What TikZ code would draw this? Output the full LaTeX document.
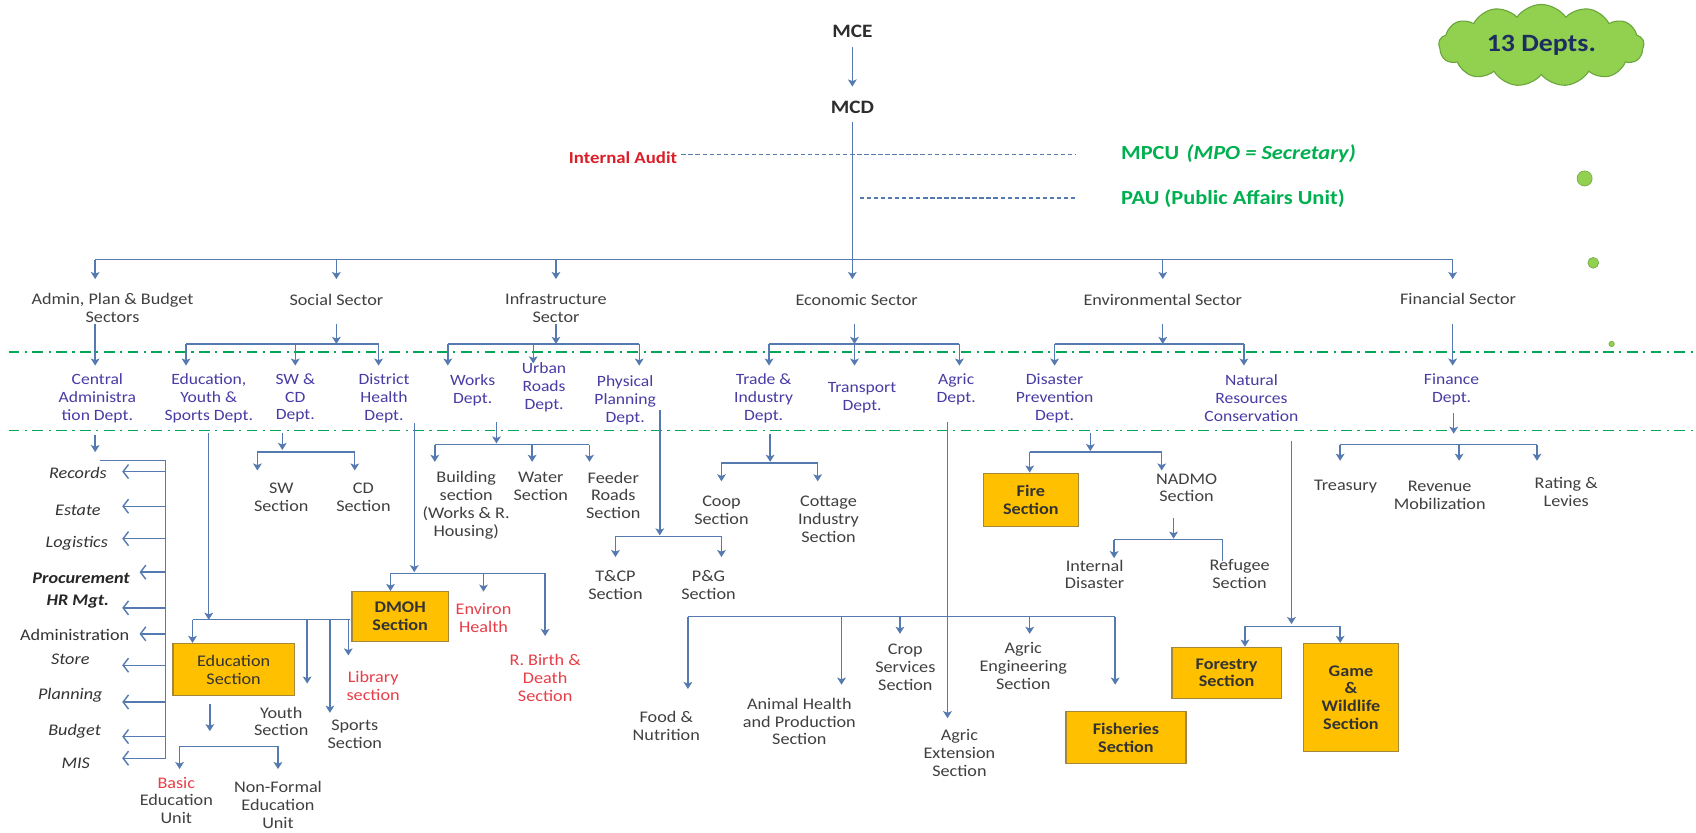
\documentclass[tikz,border=0pt]{standalone}
\usepackage{fontspec}
\setmainfont{Carlito}[FakeStretch=1.12]
\usetikzlibrary{arrows.meta,shapes.symbols}
\definecolor{lc}{RGB}{84,122,176}
\definecolor{dc}{RGB}{72,60,165}
\definecolor{sc}{RGB}{64,64,64}
\definecolor{rc}{RGB}{232,62,72}
\definecolor{auditc}{RGB}{220,30,40}
\definecolor{gtext}{RGB}{0,176,80}
\definecolor{gline}{RGB}{0,165,85}
\definecolor{oboxc}{RGB}{255,192,0}
\definecolor{obd}{RGB}{165,135,60}
\definecolor{cloudg}{RGB}{146,208,80}
\definecolor{cloudd}{RGB}{105,165,60}
\definecolor{navyc}{RGB}{28,45,95}
\newcommand\fsz{\fontsize{14.5}{16.5}\selectfont}
\newcommand\fsy{\fontsize{15}{16.5}\selectfont}
\tikzset{
  ln/.style={draw=lc, line width=1.3pt},
  arr/.style={ln, -{Stealth[length=6.5pt,width=8pt,inset=1.5pt]}},
  barb/.style={ln, -{Straight Barb[length=5pt,width=13pt]}},
  dsh/.style={draw=lc, line width=1.3pt, dash pattern=on 4pt off 2.5pt},
  ddot/.style={draw=gline, line width=1.8pt, dash pattern=on 10pt off 5pt on 2pt off 5pt},
  sector/.style={text=sc, align=center, font=\fsy, inner sep=0pt},
  dept/.style={text=dc, align=center, font=\fsz, inner sep=0pt},
  sect/.style={text=sc, align=center, font=\fsy, inner sep=0pt},
  rsect/.style={text=rc, align=center, font=\fsy, inner sep=0pt},
  item/.style={text=sc!80!black, font=\fsy\itshape, inner sep=0pt},
  bitem/.style={text=black!85, font=\fsy\bfseries\itshape, inner sep=0pt},
  obox/.style={fill=oboxc, draw=obd, line width=1.2pt, text=sc!80!black, align=center, font=\fsy, inner sep=0pt},
  dot/.style={fill=cloudg, draw=cloudd, line width=0.5pt}
}
\begin{document}
\begin{tikzpicture}[x=1pt,y=-1pt]
\useasboundingbox (0,0) rectangle (1568,770);
\fill[white] (0,0) rectangle (1568,770);

% green dash-dot lines
\coordinate (g1a) at (8,325); \coordinate (g1b) at (1568,325);
\coordinate (g2a) at (8,398); \coordinate (g2b) at (1568,398);
\draw[ddot] (g1a) -- (g1b);
\draw[ddot] (g2a) -- (g2b);

% top
\node[text=sc!70!black, font=\bfseries\fontsize{17.5}{19}\selectfont] (MCE) at (788,29) {MCE};
\node[text=sc!70!black, font=\bfseries\fontsize{17.5}{19}\selectfont] (MCD) at (788,99) {MCD};
\coordinate (m1) at (788,43); \coordinate (m2) at (788,80);
\draw[arr] (m1) -- (m2);
\coordinate (m3) at (788,113); \coordinate (m4) at (788,258);

\node[text=auditc, font=\bfseries\fontsize{15.5}{18}\selectfont] (IA) at (576,146) {Internal Audit};
\node[text=gtext, font=\bfseries\fontsize{18.5}{20}\selectfont, anchor=west] (MPCU) at (1033,142) {MPCU\hspace{7pt}\textit{(MPO = Secretary)}};
\node[text=gtext, font=\bfseries\fontsize{18.5}{20}\selectfont, anchor=west] (PAU) at (1033,184) {PAU (Public Affairs Unit)};
\coordinate (ia1) at (630,143); \coordinate (ia2) at (995,143);
\coordinate (pa1) at (795,183); \coordinate (pa2) at (995,183);
\draw[dsh] (ia1) -- (ia2);
\draw[dsh] (pa1) -- (pa2);

% cloud
\node[cloud, cloud puffs=13, cloud puff arc=110, aspect=2.6, fill=cloudg, draw=cloudd, line width=1pt,
      minimum width=190pt, minimum height=74pt, text=navyc, font=\bfseries\fontsize{23}{26}\selectfont] (cloud) at (1425,42) {13 Depts.};
\fill[dot] (1465,165) circle (7);
\fill[dot] (1473,243) circle (5);
\fill[dot] (1490,318) circle (2.5);

% sector level
\node[sector] (adm) at (104,285) {Admin, Plan \& Budget\\Sectors};
\node[sector] (soc) at (311,277) {Social Sector};
\node[sector] (inf) at (514,285) {Infrastructure\\Sector};
\node[sector] (eco) at (792,277) {Economic Sector};
\node[sector] (env) at (1075,277) {Environmental Sector};
\node[sector] (fin) at (1348,276) {Financial Sector};

\coordinate (tb1) at (88,240); \coordinate (tb2) at (311,240); \coordinate (tb3) at (514,240);
\coordinate (tb5) at (1075,240); \coordinate (tb6) at (1343,240);
\draw[ln] (tb1) -- (tb6);
\draw[arr] (m3) -- (m4);
\foreach \x/\n in {88/a,311/b,514/c,1075/e,1343/f}{
  \coordinate (tt\n) at (\x,258);
}
\draw[arr] (tb1) -- (tta);
\draw[arr] (tb2) -- (ttb);
\draw[arr] (tb3) -- (ttc);
\draw[arr] (tb5) -- (tte);
\draw[arr] (tb6) -- (ttf);

% departments
\node[dept] (cad) at (90,368) {Central\\Administra\\tion Dept.};
\node[dept] (eys) at (193,368) {Education,\\Youth \&\\Sports Dept.};
\node[dept] (swd) at (273,368) {SW \&\\CD\\Dept.};
\node[dept] (dhd) at (355,368) {District\\Health\\Dept.};
\node[dept] (wkd) at (437,361) {Works\\Dept.};
\node[dept] (urd) at (503,358) {Urban\\Roads\\Dept.};
\node[dept] (ppd) at (578,370) {Physical\\Planning\\Dept.};
\node[dept] (tid) at (706,368) {Trade \&\\Industry\\Dept.};
\node[dept] (trd) at (797,368) {Transport\\Dept.};
\node[dept] (agd) at (884,360) {Agric\\Dept.};
\node[dept] (dpd) at (975,368) {Disaster\\Prevention\\Dept.};
\node[dept] (nrc) at (1157,368) {Natural\\Resources\\Conservation};
\node[dept] (fid) at (1342,360) {Finance\\Dept.};

% sector -> dept connectors
\coordinate (a1) at (88,300); \coordinate (a2) at (88,338);
\draw[arr] (a1) -- (a2);
% social
\coordinate (s0) at (311,300); \coordinate (s1) at (311,318);
\coordinate (sb1) at (172,318); \coordinate (sb2) at (273,318); \coordinate (sb3) at (350,318);
\coordinate (se1) at (172,338); \coordinate (se2) at (273,338); \coordinate (se3) at (350,338);
\draw[arr] (s0) -- (s1);
\draw[ln] (sb1) -- (sb3);
\draw[arr] (sb1) -- (se1); \draw[arr] (sb2) -- (se2); \draw[arr] (sb3) -- (se3);
% infrastructure
\coordinate (i0) at (514,300); \coordinate (i1) at (514,318);
\coordinate (ib1) at (414,318); \coordinate (ib2) at (493,318); \coordinate (ib3) at (591,318);
\coordinate (ie1) at (414,338); \coordinate (ie2) at (493,336); \coordinate (ie3) at (591,338);
\draw[arr] (i0) -- (i1);
\draw[ln] (ib1) -- (ib3);
\draw[arr] (ib1) -- (ie1); \draw[arr] (ib2) -- (ie2); \draw[arr] (ib3) -- (ie3);
% economic
\coordinate (e0) at (790,300); \coordinate (e1) at (790,318);
\coordinate (eb1) at (711,318); \coordinate (eb2) at (790,318); \coordinate (eb3) at (887,318);
\coordinate (ee1) at (711,338); \coordinate (ee2) at (790,338); \coordinate (ee3) at (887,338);
\draw[arr] (e0) -- (e1);
\draw[ln] (eb1) -- (eb3);
\draw[arr] (eb1) -- (ee1); \draw[arr] (eb2) -- (ee2); \draw[arr] (eb3) -- (ee3);
% environmental
\coordinate (v0) at (1075,300); \coordinate (v1) at (1075,318);
\coordinate (vb1) at (975,318); \coordinate (vb2) at (1150,318);
\coordinate (ve1) at (975,338); \coordinate (ve2) at (1150,338);
\draw[arr] (v0) -- (v1);
\draw[ln] (vb1) -- (vb2);
\draw[arr] (vb1) -- (ve1); \draw[arr] (vb2) -- (ve2);
% financial
\coordinate (f0) at (1343,300); \coordinate (f1) at (1343,338);
\draw[arr] (f0) -- (f1);

% ---- Central administration items
\coordinate (c1) at (88,402); \coordinate (c2) at (88,418);
\draw[arr] (c1) -- (c2);
\coordinate (cb0) at (92,426); \coordinate (cb1) at (153,426); \coordinate (cb2) at (153,702);
\draw[ln] (cb0) -- (cb1) -- (cb2);
\node[item] (rec) at (72,437) {Records};
\node[item] (est) at (72,472) {Estate};
\node[item] (lgs) at (71,502) {Logistics};
\node[bitem] (pro) at (75,535) {Procurement};
\node[bitem] (hrm) at (72,556) {HR Mgt.};
\node[text=sc!80!black, font=\fsy, inner sep=0pt] (adn) at (69,587) {Administration};
\node[item] (sto) at (65,610) {Store};
\node[item] (pla) at (65,643) {Planning};
\node[item] (bud) at (69,676) {Budget};
\node[item] (mis) at (70,706) {MIS};
\foreach \y/\t/\n in {436/113/1,468/113/2,498/113/3,529/129/4,562/113/5,586/129/6,615/113/7,649/113/8,681/113/9,701/113/10}{
  \coordinate (lb\n) at (153,\y); \coordinate (lt\n) at (\t,\y);
  \draw[barb] (lb\n) -- (lt\n);
}

% ---- Education, Youth & Sports
\coordinate (ed0) at (193,400); \coordinate (ed1) at (193,573);
\draw[arr] (ed0) -- (ed1);
\coordinate (eb0) at (178,573); \coordinate (ebE) at (324,573);
\draw[ln] (eb0) -- (ebE);
\node[obox, minimum width=112pt, minimum height=48pt] (eds) at (216,619) {Education\\Section};
\coordinate (ya) at (284,573); \coordinate (yb) at (284,632);
\coordinate (spa) at (305,573); \coordinate (spb) at (305,659);
\coordinate (la) at (322,573); \coordinate (lb) at (322,606);
\draw[arr] (eb0) -- (eds.north -| eb0);
\draw[arr] (ya) -- (yb);
\draw[arr] (spa) -- (spb);
\draw[arr] (la) -- (lb);
\node[sect] (yth) at (260,667) {Youth\\Section};
\node[sect] (spt) at (328,679) {Sports\\Section};
\node[rsect] (lib) at (345,634) {Library\\section};
\coordinate (u0) at (194,651); \coordinate (u1) at (194,676);
\draw[arr] (u0) -- (u1);
\coordinate (ub1) at (166,690); \coordinate (ub2) at (257,690);
\coordinate (ue1) at (166,711); \coordinate (ue2) at (257,711);
\draw[ln] (ub1) -- (ub2);
\draw[arr] (ub1) -- (ue1); \draw[arr] (ub2) -- (ue2);
\node[sect] (beu) at (163,740) {{\color{rc}Basic}\\Education\\Unit};
\node[sect] (nfe) at (257,744) {Non-Formal\\Education\\Unit};

% ---- SW & CD
\coordinate (sw0) at (261,400); \coordinate (sw1) at (261,416);
\draw[arr] (sw0) -- (sw1);
\coordinate (swb1) at (238,418); \coordinate (swb2) at (328,418);
\coordinate (swe1) at (238,435); \coordinate (swe2) at (328,435);
\draw[ln] (swb1) -- (swb2);
\draw[arr] (swb1) -- (swe1); \draw[arr] (swb2) -- (swe2);
\node[sect] (sws) at (260,460) {SW\\Section};
\node[sect] (cds) at (336,460) {CD\\Section};

% ---- District Health
\coordinate (dh0) at (383,391); \coordinate (dh1) at (383,529);
\draw[arr] (dh0) -- (dh1);
\coordinate (dhb1) at (361,530); \coordinate (dhb2) at (447,530); \coordinate (dhb3) at (504,530);
\draw[ln] (dhb1) -- (dhb3);
\node[obox, font=\fsy\bfseries, minimum width=89pt, minimum height=46pt] (dmoh) at (370,570) {DMOH\\Section};
\node[rsect] (envh) at (447,571) {Environ\\Health};
\node[rsect] (rbd) at (504,627) {R. Birth \&\\Death\\Section};
\coordinate (dhe2) at (447,547); \coordinate (dhe3) at (504,588);
\draw[arr] (dhb1) -- (dmoh.north -| dhb1);
\draw[arr] (dhb2) -- (dhe2);
\draw[arr] (dhb3) -- (dhe3);

% ---- Works
\coordinate (wk0) at (459,390); \coordinate (wk1) at (459,410);
\draw[arr] (wk0) -- (wk1);
\coordinate (wb1) at (402,411); \coordinate (wb2) at (492,411); \coordinate (wb3) at (545,411);
\coordinate (we1) at (402,427); \coordinate (we2) at (492,427); \coordinate (we3) at (545,427);
\draw[ln] (wb1) -- (wb3);
\draw[arr] (wb1) -- (we1); \draw[arr] (wb2) -- (we2); \draw[arr] (wb3) -- (we3);
\node[sect] (bsec) at (431,467) {Building\\section\\(Works \& R.\\Housing)};
\node[sect] (wsec) at (500,450) {Water\\Section};
\node[sect] (frs) at (567,458) {Feeder\\Roads\\Section};

% ---- Physical planning
\coordinate (pp0) at (610,379); \coordinate (pp1) at (610,495);
\draw[arr] (pp0) -- (pp1);
\coordinate (pb1) at (569,496); \coordinate (pb2) at (667,496);
\coordinate (pe1) at (569,515); \coordinate (pe2) at (667,515);
\draw[ln] (pb1) -- (pb2);
\draw[arr] (pb1) -- (pe1); \draw[arr] (pb2) -- (pe2);
\node[sect] (tcp) at (569,541) {T\&CP\\Section};
\node[sect] (pg) at (655,541) {P\&G\\Section};

% ---- Trade & Industry
\coordinate (ti0) at (712,401); \coordinate (ti1) at (712,427);
\draw[arr] (ti0) -- (ti1);
\coordinate (tb7) at (667,428); \coordinate (tb8) at (756,428);
\coordinate (te7) at (667,445); \coordinate (te8) at (756,445);
\draw[ln] (tb7) -- (tb8);
\draw[arr] (tb7) -- (te7); \draw[arr] (tb8) -- (te8);
\node[sect] (coop) at (667,472) {Coop\\Section};
\node[sect] (cot) at (766,480) {Cottage\\Industry\\Section};

% ---- Agric
\coordinate (ag0) at (876,390); \coordinate (ag1) at (876,664);
\coordinate (ab1) at (636,570); \coordinate (ab2) at (778,570); \coordinate (ab3) at (832,570);
\coordinate (ab4) at (952,570); \coordinate (ab5) at (1031,570);
\coordinate (ae1) at (636,637); \coordinate (ae2) at (778,633); \coordinate (ae3) at (832,586);
\coordinate (ae4) at (952,586); \coordinate (ae5) at (1031,633);
\draw[ln] (ab1) -- (ab5);
\draw[arr] (ab1) -- (ae1); \draw[arr] (ab2) -- (ae2); \draw[arr] (ab3) -- (ae3);
\draw[arr] (ab4) -- (ae4); \draw[arr] (ab5) -- (ae5);
\draw[arr] (ag0) -- (ag1);
\node[sect] (agx) at (887,696) {Agric\\Extension\\Section};
\node[sect] (fn) at (616,671) {Food \&\\Nutrition};
\node[sect] (ahp) at (739,667) {Animal Health\\and Production\\Section};
\node[sect] (crop) at (837,617) {Crop\\Services\\Section};
\node[sect] (aes) at (946,616) {Agric\\Engineering\\Section};
\node[obox, font=\fsy\bfseries, minimum width=111pt, minimum height=48pt] (fish) at (1041,682) {Fisheries\\Section};

% ---- Disaster prevention
\coordinate (dp0) at (1008,400); \coordinate (dp1) at (1008,417);
\draw[arr] (dp0) -- (dp1);
\coordinate (db1) at (952,418); \coordinate (db2) at (1074,418);
\coordinate (de2) at (1074,435);
\draw[ln] (db1) -- (db2);
\node[obox, font=\fsy\bfseries, minimum width=88pt, minimum height=49pt] (fire) at (953,462) {Fire\\Section};
\draw[arr] (db1) -- (fire.north -| db1);
\draw[arr] (db2) -- (de2);
\node[sect] (nadmo) at (1097,451) {NADMO\\Section};
\coordinate (na0) at (1085,479); \coordinate (na1) at (1085,498);
\draw[arr] (na0) -- (na1);
\coordinate (nb1) at (1030,499); \coordinate (nb2) at (1130,499);
\coordinate (ne1) at (1030,516); \coordinate (ne2) at (1130,519);
\draw[ln] (ne2) -- (nb2) -- (nb1);
\draw[arr] (nb1) -- (ne1);
\node[sect] (ids) at (1012,531) {Internal\\Disaster};
\node[sect] (refs) at (1146,531) {Refugee\\Section};

% ---- Natural resources
\coordinate (nr0) at (1194,408); \coordinate (nr1) at (1194,577);
\draw[arr] (nr0) -- (nr1);
\coordinate (rb1) at (1151,579); \coordinate (rb2) at (1239,579);
\draw[ln] (rb1) -- (rb2);
\node[obox, font=\fsy\bfseries, minimum width=101pt, minimum height=47pt] (fore) at (1134,622) {Forestry\\Section};
\node[obox, font=\fsy\bfseries, minimum width=88pt, minimum height=100pt] (game) at (1249,645) {Game\\\&\\Wildlife\\Section};
\draw[arr] (rb1) -- (fore.north -| rb1);
\draw[arr] (rb2) -- (game.north -| rb2);

% ---- Finance
\coordinate (fd0) at (1344,382); \coordinate (fd1) at (1344,401);
\draw[arr] (fd0) -- (fd1);
\coordinate (fb1) at (1239,411); \coordinate (fb2) at (1349,411); \coordinate (fb3) at (1421,411);
\coordinate (fe1) at (1239,426); \coordinate (fe2) at (1349,426); \coordinate (fe3) at (1421,426);
\draw[ln] (fb1) -- (fb3);
\draw[arr] (fb1) -- (fe1); \draw[arr] (fb2) -- (fe2); \draw[arr] (fb3) -- (fe3);
\node[sect] (tre) at (1244,450) {Treasury};
\node[sect] (rev) at (1331,458) {Revenue\\Mobilization};
\node[sect] (rat) at (1448,455) {Rating \&\\Levies};
\end{tikzpicture}
\end{document}
